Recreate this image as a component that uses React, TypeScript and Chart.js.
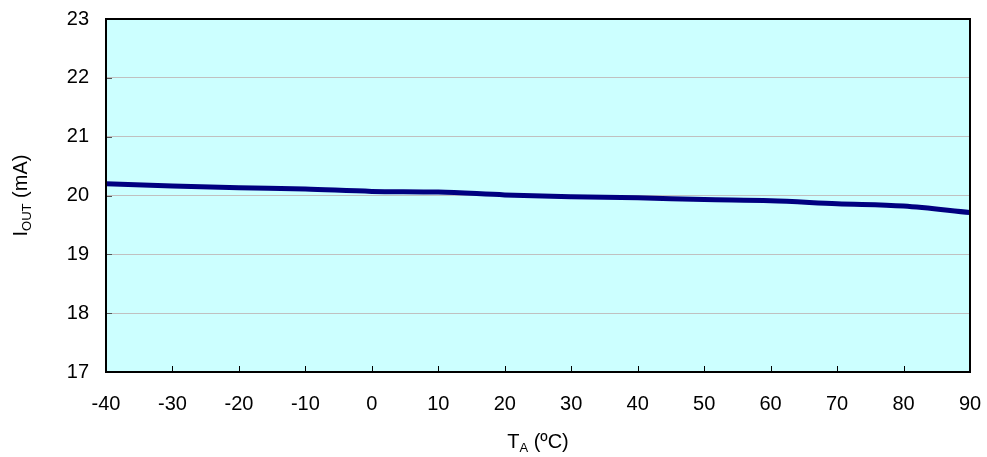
import React, { useEffect, useRef } from "react";
import { Chart, registerables } from "chart.js";

Chart.register(...registerables);

const temps = [-40, -30, -20, -10, 0, 10, 20, 30, 40, 50, 60, 70, 80, 90];
const iout = [20.2, 20.16, 20.13, 20.11, 20.07, 20.06, 20.01, 19.98, 19.96, 19.93, 19.91, 19.86, 19.82, 19.71];
const yMin = 17;
const yMax = 23;
const xMin = -40;
const xMax = 90;

const FONT = "Arial, 'Liberation Sans', sans-serif";

const framePlugin = {
  id: "frame",
  beforeDraw(chart: any) {
    const { ctx, chartArea: a } = chart;
    ctx.save();
    ctx.fillStyle = "#ccffff";
    ctx.fillRect(a.left, a.top, a.right - a.left, a.bottom - a.top);
    ctx.restore();
  },
  afterDatasetsDraw(chart: any) {
    const { ctx, chartArea: a, scales } = chart;
    ctx.save();
    ctx.strokeStyle = "#000";
    ctx.lineWidth = 1;
    for (const t of temps) {
      const x = Math.round(scales.x.getPixelForValue(t)) + 0.5;
      ctx.beginPath();
      ctx.moveTo(x, a.bottom);
      ctx.lineTo(x, a.bottom - 6);
      ctx.stroke();
    }
    for (let v = yMin; v <= yMax; v++) {
      const y = Math.round(scales.y.getPixelForValue(v)) + 0.5;
      ctx.strokeStyle = "#555";
      ctx.beginPath();
      ctx.moveTo(a.left, y);
      ctx.lineTo(a.left + 6, y);
      ctx.stroke();
    }
    ctx.strokeStyle = "#000";
    ctx.lineWidth = 2;
    ctx.strokeRect(a.left, a.top, a.right - a.left, a.bottom - a.top);

    ctx.fillStyle = "#000";
    ctx.textBaseline = "alphabetic";
    const big = `20px ${FONT}`;
    const small = `13px ${FONT}`;
    ctx.font = big;
    const wT = ctx.measureText("T").width;
    const wRest = ctx.measureText(" (ºC)").width;
    ctx.font = small;
    const wA = ctx.measureText("A").width;
    const total = wT + wA + wRest;
    const x0 = (a.left + a.right) / 2 - total / 2;
    const by = 448;
    ctx.font = big;
    ctx.fillText("T", x0, by);
    ctx.font = small;
    ctx.fillText("A", x0 + wT, by + 4);
    ctx.font = big;
    ctx.fillText(" (ºC)", x0 + wT + wA, by);

    ctx.translate(27, (a.top + a.bottom) / 2);
    ctx.rotate(-Math.PI / 2);
    ctx.font = big;
    const wI = ctx.measureText("I").width;
    const wR = ctx.measureText(" (mA)").width;
    ctx.font = small;
    const wO = ctx.measureText("OUT").width;
    const tot2 = wI + wO + wR;
    const s = -tot2 / 2;
    ctx.font = big;
    ctx.fillText("I", s, 0);
    ctx.font = small;
    ctx.fillText("OUT", s + wI, 4);
    ctx.font = big;
    ctx.fillText(" (mA)", s + wI + wO, 0);
    ctx.restore();
  },
};

export default function App() {
  const ref = useRef<HTMLCanvasElement>(null);
  useEffect(() => {
    document.body.style.margin = "0";
    const chart = new Chart(ref.current!, {
      type: "line",
      data: {
        datasets: [
          {
            data: temps.map((t, i) => ({ x: t, y: iout[i] })),
            borderColor: "#000080",
            borderWidth: 5,
            pointRadius: 0,
            tension: 0.4,
            cubicInterpolationMode: "monotone",
            fill: false,
          },
        ],
      },
      options: {
        animation: false,
        responsive: false,
        maintainAspectRatio: false,
        layout: { padding: { left: 0, right: 17, top: 19, bottom: 0 } },
        plugins: { legend: { display: false }, tooltip: { enabled: false } },
        scales: {
          x: {
            type: "linear",
            min: xMin,
            max: xMax,
            grid: { display: false, drawTicks: false },
            border: { display: false },
            ticks: {
              stepSize: 10,
              padding: 20,
              color: "#000",
              font: { family: FONT, size: 20 },
            },
            afterFit(s: any) {
              s.height = 85;
              s.paddingLeft = 0;
              s.paddingRight = 0;
            },
          },
          y: {
            min: yMin,
            max: yMax,
            grid: { color: "#c0c0c0", lineWidth: 1, drawTicks: false },
            border: { display: false },
            ticks: {
              stepSize: 1,
              padding: 17,
              color: "#000",
              font: { family: FONT, size: 20 },
            },
            afterFit(s: any) {
              s.width = 106;
              s.paddingTop = 0;
              s.paddingBottom = 0;
            },
          },
        },
      },
      plugins: [framePlugin],
    } as any);
    return () => chart.destroy();
  }, []);
  return <canvas ref={ref} width={987} height={457} style={{ display: "block" }} />;
}
